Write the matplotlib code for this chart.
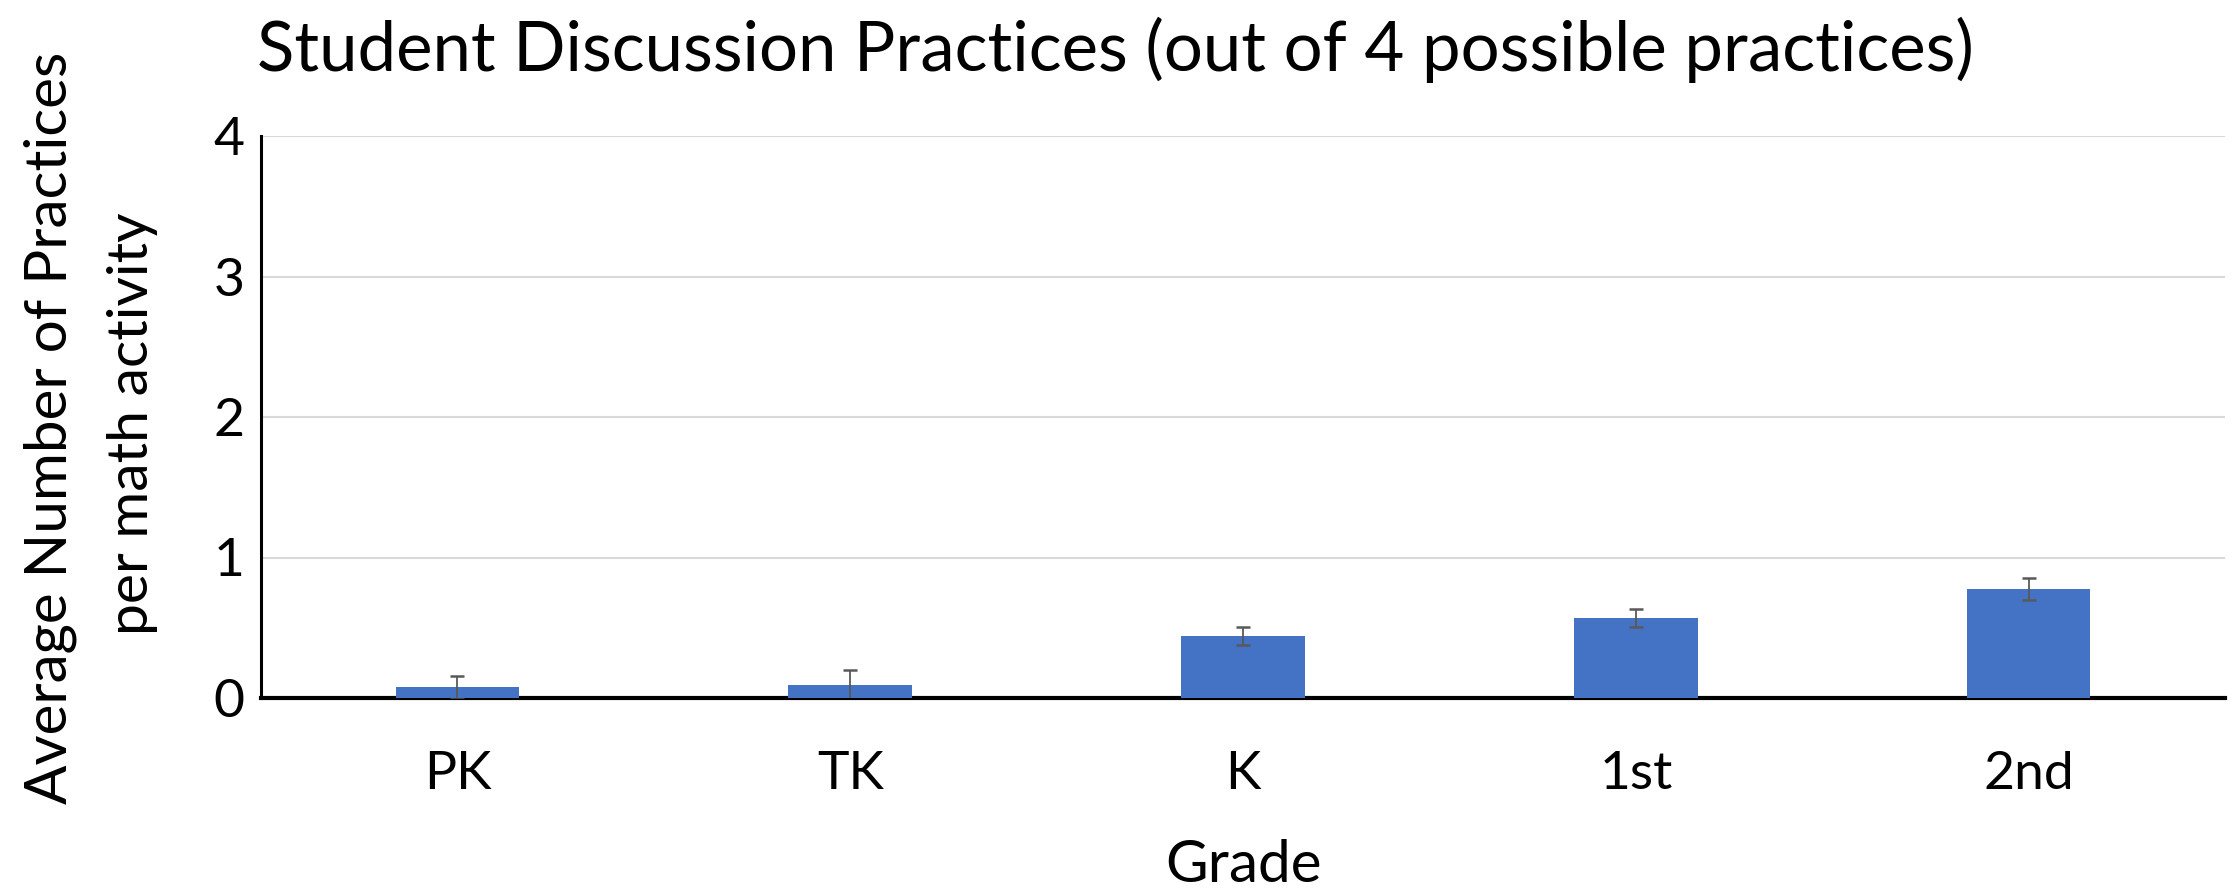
import matplotlib.pyplot as plt

grades = ['PK', 'TK', 'K', '1st', '2nd']
avg_practices = [0.075, 0.089, 0.441, 0.568, 0.779]
err = [0.080, 0.108, 0.064, 0.063, 0.078]
yticks = [0, 1, 2, 3, 4]

plt.rcParams['font.family'] = ['Lato', 'DejaVu Sans']

fig = plt.figure(figsize=(22.37, 8.92), dpi=100)
ax = fig.add_axes([261 / 2237, 1 - 698 / 892, (2225 - 261) / 2237, (698 - 136) / 892])

x = list(range(len(grades)))
ax.bar(x, avg_practices, width=0.315, color='#4472c4', zorder=3)
ax.errorbar(x, avg_practices, yerr=err, fmt='none', ecolor='#595959',
            elinewidth=1.3, capsize=5, capthick=1.8, zorder=4)

ax.set_xlim(-0.5, 4.5)
ax.set_ylim(0, 4)
ax.set_yticks(yticks)
ax.set_xticks(x)
ax.set_xticklabels(grades)
ax.tick_params(axis='both', length=0, labelsize=38.5)
ax.tick_params(axis='y', pad=12)
ax.tick_params(axis='x', pad=38)
ax.grid(axis='y', color='#d9d9d9', linewidth=1.5, zorder=0)
ax.set_axisbelow(True)

for s in ['top', 'right']:
    ax.spines[s].set_visible(False)
ax.spines['left'].set_linewidth(2.2)
ax.spines['bottom'].set_linewidth(3)

fig.text(257 / 2237, 1 - 50 / 892, 'Student Discussion Practices (out of 4 possible practices)',
         fontsize=49.6, ha='left', va='center')
fig.text(50 / 2237, 1 - 428 / 892, 'Average Number of Practices',
         fontsize=42, rotation=90, ha='center', va='center')
fig.text(133 / 2237, 1 - 424 / 892, 'per math activity',
         fontsize=41, rotation=90, ha='center', va='center')
fig.text((261 + 2225) / 2 / 2237, 1 - 865 / 892, 'Grade', fontsize=42, ha='center', va='center')

plt.savefig('out.png', dpi=100)
